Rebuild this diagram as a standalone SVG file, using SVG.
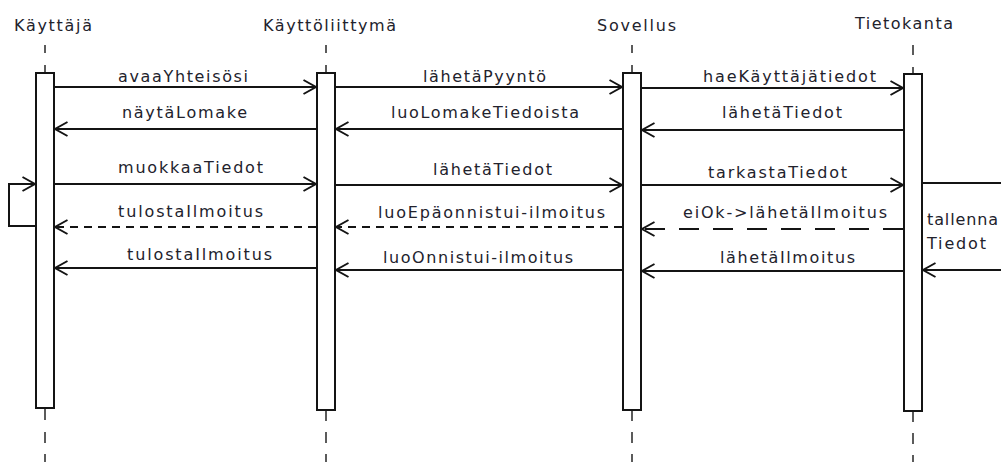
<svg xmlns="http://www.w3.org/2000/svg" width="1001" height="462" viewBox="0 0 1001 462">
<style>
text{font-family:"DejaVu Sans","Liberation Sans",sans-serif;font-size:16px;fill:#22222c}
.box{fill:#fff;stroke:#141414;stroke-width:2}
.life{stroke:#333;stroke-width:1.6;fill:none}
.msg{stroke:#141414;stroke-width:2;fill:none;marker-end:url(#arr)}
.dash{stroke-dasharray:8 6}
.dash2{stroke-dasharray:20 14}
</style>
<defs>
<marker id="arr" viewBox="0 0 16 16" refX="14" refY="8" markerWidth="16" markerHeight="16" markerUnits="userSpaceOnUse" orient="auto">
<path d="M1.5,1 L14,8 L1.5,15" fill="none" stroke="#141414" stroke-width="2" stroke-dasharray="none"/>
</marker>
</defs>
<rect width="1001" height="462" fill="#fff"/>
<g id="kayttaja">
<text x="14" y="31" textLength="78" lengthAdjust="spacing">Käyttäjä</text>
<path class="life" d="M45,45V53M45,65V73M45,408V420M45,432V443M45,454V462"/>
<rect class="box" x="36" y="73" width="18" height="335"/>
</g>
<g id="kayttoliittyma">
<text x="263" y="31" textLength="133" lengthAdjust="spacing">Käyttöliittymä</text>
<path class="life" d="M326,45V53M326,65V73M326,410V421M326,432V443M326,454V462"/>
<rect class="box" x="317" y="73" width="18" height="337"/>
</g>
<g id="sovellus">
<text x="597" y="31" textLength="79" lengthAdjust="spacing">Sovellus</text>
<path class="life" d="M632,45V53M632,65V73M632,410V421M632,432V443M632,454V462"/>
<rect class="box" x="623" y="73" width="18" height="337"/>
</g>
<g id="tietokanta">
<text x="855" y="29" textLength="98" lengthAdjust="spacing">Tietokanta</text>
<path class="life" d="M913,45V55M913,67V74M913,411V422M913,433V444M913,455V462"/>
<rect class="box" x="904" y="74" width="18" height="337"/>
</g>
<g id="connectors">
<line class="msg" x1="55" y1="87" x2="316" y2="87"/>
<line class="msg" x1="336" y1="87" x2="622" y2="87"/>
<line class="msg" x1="642" y1="88" x2="903" y2="88"/>
<line class="msg" x1="316" y1="129" x2="55" y2="129"/>
<line class="msg" x1="622" y1="129" x2="336" y2="129"/>
<line class="msg" x1="903" y1="130" x2="642" y2="130"/>
<line class="msg" x1="55" y1="184" x2="316" y2="184"/>
<line class="msg" x1="336" y1="185" x2="622" y2="185"/>
<line class="msg" x1="642" y1="185" x2="903" y2="185"/>
<polyline class="msg" points="35,226 9,226 9,184 35,184"/>
<line class="msg dash" x1="316" y1="227" x2="55" y2="227"/>
<line class="msg dash" x1="622" y1="227" x2="336" y2="227"/>
<line class="msg dash2" x1="903" y1="229" x2="642" y2="229"/>
<polyline class="msg" points="923,183 1010,183 1010,270 923,270"/>
<line class="msg" x1="316" y1="268" x2="55" y2="268"/>
<line class="msg" x1="622" y1="270" x2="336" y2="270"/>
<line class="msg" x1="903" y1="271" x2="642" y2="271"/>
</g>
<g id="labels">
<text x="118" y="82" textLength="130" lengthAdjust="spacing">avaaYhteisösi</text>
<text x="423" y="82" textLength="123" lengthAdjust="spacing">lähetäPyyntö</text>
<text x="703" y="82" textLength="173" lengthAdjust="spacing">haeKäyttäjätiedot</text>
<text x="122" y="118" textLength="125" lengthAdjust="spacing">näytäLomake</text>
<text x="391" y="118" textLength="188" lengthAdjust="spacing">luoLomakeTiedoista</text>
<text x="722" y="118" textLength="120" lengthAdjust="spacing">lähetäTiedot</text>
<text x="118" y="173" textLength="145" lengthAdjust="spacing">muokkaaTiedot</text>
<text x="433" y="175" textLength="119" lengthAdjust="spacing">lähetäTiedot</text>
<text x="708" y="178" textLength="139" lengthAdjust="spacing">tarkastaTiedot</text>
<text x="118" y="217" textLength="145" lengthAdjust="spacing">tulostaIlmoitus</text>
<text x="378" y="218" textLength="227" lengthAdjust="spacing">luoEpäonnistui-ilmoitus</text>
<text x="683" y="218" textLength="204" lengthAdjust="spacing">eiOk-&gt;lähetäIlmoitus</text>
<text x="927" y="225" textLength="71" lengthAdjust="spacing">tallenna</text>
<text x="927" y="249" textLength="59" lengthAdjust="spacing">Tiedot</text>
<text x="127" y="260" textLength="145" lengthAdjust="spacing">tulostaIlmoitus</text>
<text x="383" y="263" textLength="190" lengthAdjust="spacing">luoOnnistui-ilmoitus</text>
<text x="720" y="263" textLength="135" lengthAdjust="spacing">lähetäIlmoitus</text>
</g>
</svg>
